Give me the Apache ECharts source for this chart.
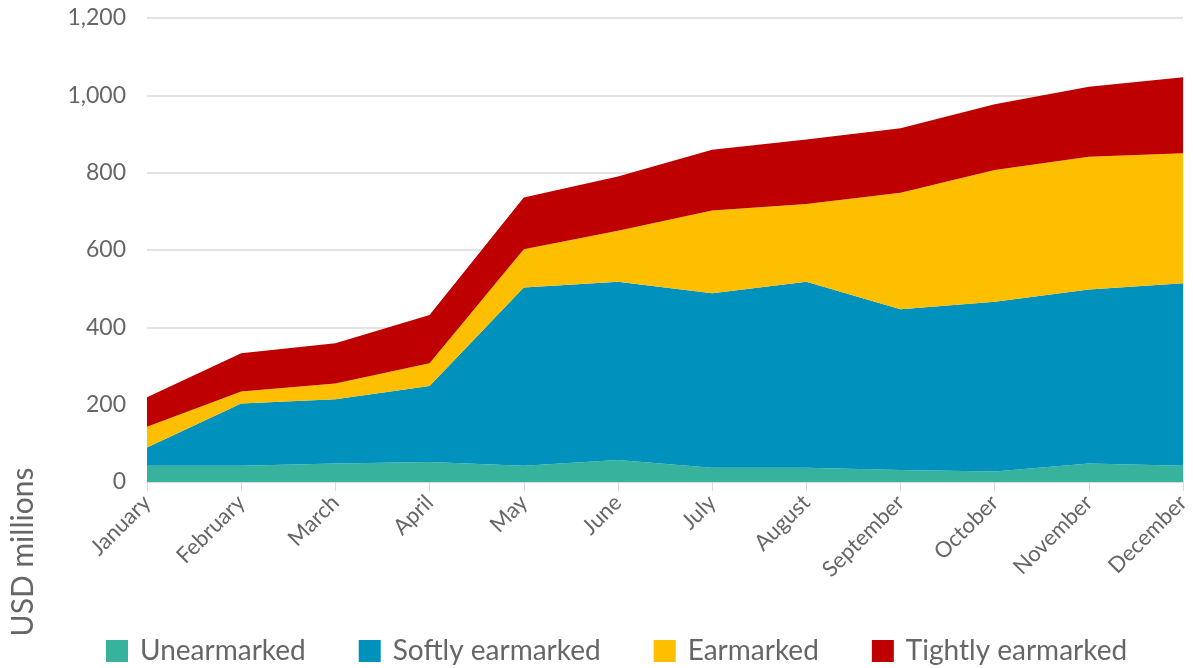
<!DOCTYPE html>
<html>
<head>
<meta charset="utf-8">
<script src="https://cdn.jsdelivr.net/npm/echarts@6/dist/echarts.min.js"></script>
<style>html,body{margin:0;padding:0;background:#fff}#c{width:1193px;height:668px}</style>
</head>
<body>
<div id="c"></div>
<script>
const months = ["January","February","March","April","May","June","July","August","September","October","November","December"];
const unearmarked = [42, 42, 48, 52, 42, 57, 37, 37, 31, 27, 48, 42];
const softlyEarmarked = [47, 161, 166, 196, 461, 461, 451, 481, 416, 439, 450, 472];
const earmarked = [54, 31, 41, 59, 99, 132, 214, 201, 301, 341, 343, 336];
const tightlyEarmarked = [76, 99, 104, 125, 134, 140, 157, 167, 167, 170, 181, 197];
const yTicks = { min: 0, max: 1200, interval: 200 };
const yName = "USD millions";

const names = ["Unearmarked","Softly earmarked","Earmarked","Tightly earmarked"];
const colors = ["#37B29D","#0092BC","#FDBF00","#BE0000"];
const datas = [unearmarked, softlyEarmarked, earmarked, tightlyEarmarked];
const font = "Lato, 'Noto Sans', sans-serif";
const textColor = '#666666';

const chart = echarts.init(document.getElementById('c'));
chart.setOption({
  animation: false,
  color: colors,
  grid: { left: 147, right: 6, top: 18, bottom: 186, containLabel: false },
  legend: {
    top: 632, left: 101,
    itemWidth: 22, itemHeight: 22, itemGap: 53,
    icon: 'rect',
    textStyle: { fontFamily: font, fontSize: 28, color: textColor, padding: [0,0,0,7] },
    data: names
  },
  graphic: [{
    type: 'text', x: 23, y: 552, rotation: Math.PI/2,
    style: { text: yName, fontFamily: font, fontSize: 30, fill: textColor, align: 'center', verticalAlign: 'middle' }
  }],
  xAxis: {
    type: 'category', data: months, boundaryGap: false,
    axisLine: { lineStyle: { color: '#d9d9d9', width: 1.5 } },
    axisTick: { show: true, length: 9, lineStyle: { color: '#d9d9d9' } },
    axisLabel: { rotate: 45, fontFamily: font, fontSize: 22, color: textColor, margin: 17 }
  },
  yAxis: {
    type: 'value', min: yTicks.min, max: yTicks.max, interval: yTicks.interval,
    axisLine: { show: false }, axisTick: { show: false },
    splitLine: { lineStyle: { color: '#d9d9d9', width: 1.5 } },
    axisLabel: { fontFamily: font, fontSize: 23, color: textColor, margin: 21,
      formatter: v => v.toLocaleString('en-US') }
  },
  series: names.map((n, i) => ({
    name: n, type: 'line', stack: 'total', data: datas[i],
    showSymbol: false, symbol: 'none',
    lineStyle: { width: 0 },
    areaStyle: { color: colors[i], opacity: 1 },
    itemStyle: { color: colors[i] }
  }))
});
</script>
</body>
</html>
